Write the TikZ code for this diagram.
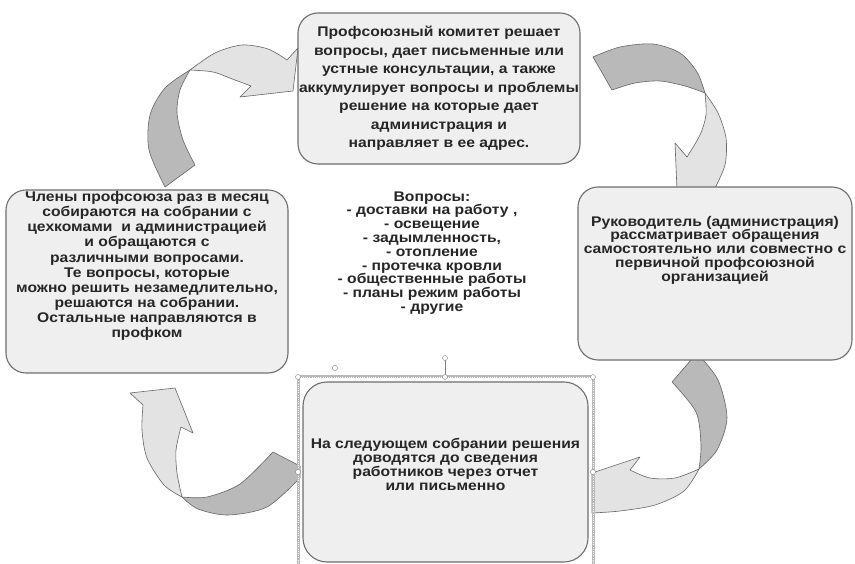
\documentclass[tikz,border=0pt]{standalone}
\usepackage{fontspec}
\setmainfont{Liberation Sans}[FakeStretch=1.12]
\usetikzlibrary{positioning}
\definecolor{boxfill}{HTML}{EFEFEF}
\definecolor{boxline}{HTML}{6E6E6E}
\definecolor{backgray}{HTML}{B9B9B9}
\definecolor{frontgray}{HTML}{E3E3E3}
\definecolor{inkgray}{HTML}{262626}

\begin{document}
\begin{tikzpicture}[x=1pt,y=-1pt,
  stagebox/.style={draw=boxline, fill=boxfill, line width=1.1pt, rounded corners=20pt},
  stagetext/.style={align=center, text=inkgray, inner sep=0pt},
  back/.style={fill=backgray, draw=gray!80!black, line width=0.6pt, line join=round},
  front/.style={fill=frontgray, draw=gray!80!black, line width=0.6pt, line join=round},
  handle/.style={circle, draw=gray, fill=white, inner sep=0pt, minimum size=5pt}]
\useasboundingbox[fill=white] (0,0) rectangle (855,564);

\draw[back] plot[smooth] coordinates {(165,187) (149,150) (150,115) (165,88) (190,70)}
  -- plot[smooth] coordinates {(190,70) (180,90) (177,113) (183,140) (195,165)} -- cycle;
\draw[front] plot[smooth] coordinates {(190,70) (215,53) (242,45) (268,49) (287,60)}
  -- (298,48) -- (293,91) -- (240,97) -- (251,86)
  -- plot[smooth] coordinates {(251,86) (235,80) (213,72) (190,70)} -- cycle;

\draw[back] plot[smooth] coordinates {(593,57) (620,47) (653,44) (680,53) (697,72) (705,93)}
  -- plot[smooth] coordinates {(705,93) (685,86) (660,81) (635,83) (612,90)} -- cycle;
\draw[front] plot[smooth] coordinates {(705,93) (718,113) (726,138) (725,165) (714,190)}
  -- (677,190) -- (675,143) -- (687,157)
  -- plot[smooth] coordinates {(687,157) (700,135) (706,115) (705,93)} -- cycle;

\draw[back] plot[smooth] coordinates {(697,353) (718,380) (727,418) (717,450) (699,469)}
  -- plot[smooth] coordinates {(699,469) (701,445) (696,412) (672,382)} -- cycle;
\draw[front] plot[smooth] coordinates {(699,469) (684,491) (655,505) (620,511) (592,513)}
  -- (592,473) -- (640,457) -- (630,470)
  -- plot[smooth] coordinates {(630,470) (650,478) (675,478) (699,469)} -- cycle;

\draw[back] (273,452) -- (300,466) -- (300,478)
  -- plot[smooth] coordinates {(300,478) (267,507) (228,515) (198,509) (182,497)}
  -- plot[smooth] coordinates {(182,497) (207,497) (240,484) (273,452)} -- cycle;
\draw[front] plot[smooth] coordinates {(182,497) (164,485) (147,458) (142,430) (143,405)}
  -- (130,393) -- (175,388) -- (193,433) -- (181,427)
  -- plot[smooth] coordinates {(181,427) (176,450) (177,473) (182,497)} -- cycle;

\node[stagebox, minimum width=282pt, minimum height=151pt] (prof) at (439,88.5) {};
\node[stagebox, minimum width=282pt, minimum height=183pt] (memb) at (147,281.5) {};
\node[stagebox, minimum width=274pt, minimum height=173pt] (head) at (715,273.5) {};

\draw[gray!55, line width=3pt] (298,377) rectangle (593,570);
\draw[white, line width=0.9pt, dash pattern=on 1pt off 1.2pt] (298,377) rectangle (593,570);
\node[stagebox, minimum width=285pt, minimum height=180pt, rounded corners=24pt] (meet) at (445.5,472) {};
\draw[gray, line width=0.8pt] (445,358) -- (445,377);
\foreach \hx/\hy in {298/377, 593/377, 445/377, 298/472, 593/472, 445/358, 335/368}
  \node[handle] at (\hx,\hy) {};

\node[stagetext, font=\bfseries\fontsize{14}{18.5}\selectfont] (proftxt) at (prof.center)
  {Профсоюзный комитет решает\\вопросы, дает письменные или\\устные консультации, а также\\аккумулирует вопросы и проблемы\\решение на которые дает\\администрация и\\направляет в ее адрес.};
\node[stagetext, font=\bfseries\fontsize{14}{15.1}\selectfont] (membtxt) at ([yshift=15.5pt]memb.center)
  {Члены профсоюза раз в месяц\\собираются на собрании с\\цехкомами \ и администрацией\\и обращаются с\\различными вопросами.\\Те вопросы, которые\\можно решить незамедлительно,\\решаются на собрании.\\Остальные направляются в\\профком};
\node[stagetext, font=\bfseries\fontsize{14}{13.8}\selectfont] (headtxt) at ([yshift=23.5pt]head.center)
  {Руководитель (администрация)\\рассматривает обращения\\самостоятельно или совместно с\\первичной профсоюзной\\организацией};
\node[stagetext, font=\bfseries\fontsize{14}{14}\selectfont] (meettxt) at ([yshift=8pt]meet.center)
  {На следующем собрании решения\\доводятся до сведения\\работников через отчет\\или письменно};
\node[stagetext, font=\bfseries\fontsize{14}{13.8}\selectfont] (issues) at (432,253)
  {Вопросы:\\- доставки на работу ,\\- освещение\\- задымленность,\\- отопление\\- протечка кровли\\- общественные работы\\- планы режим работы\\- другие};
\end{tikzpicture}
\end{document}
